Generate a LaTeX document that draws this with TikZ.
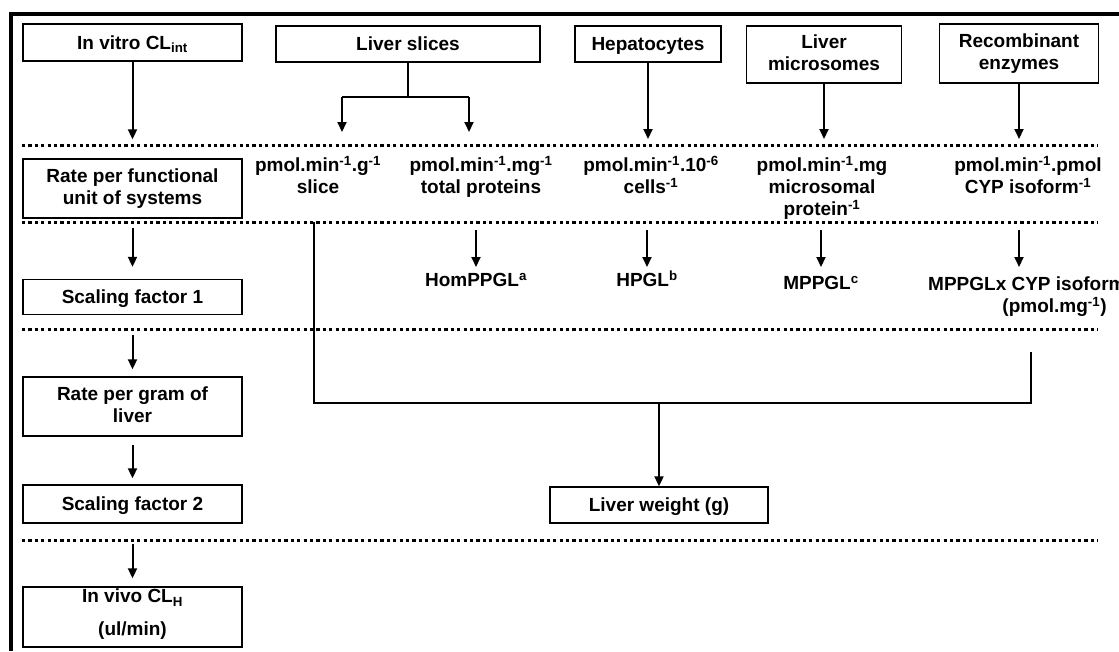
\documentclass[tikz,border=0pt]{standalone}
\usepackage{fontspec}
\setmainfont{Liberation Sans}
\usetikzlibrary{arrows.meta, positioning}

\begin{document}
\begin{tikzpicture}[
  x=1pt, y=-1pt,
  >={Triangle[length=10pt, width=9pt]},
  box/.style={
    rectangle, draw=black, line width=1.4pt,
    minimum width=219pt, minimum height=37pt, inner sep=0pt,
    align=center, font=\fontsize{19}{22}\selectfont\bfseries,
    execute at begin node={\rule[-4.5pt]{0pt}{22pt}},
    execute at end node={\rule[-4.5pt]{0pt}{22pt}}
  },
  lbl/.style={
    inner sep=0pt, align=center, font=\fontsize{19}{22}\selectfont\bfseries,
    execute at begin node={\rule[-4.5pt]{0pt}{22pt}},
    execute at end node={\rule[-4.5pt]{0pt}{22pt}}
  },
  divider/.style={line width=3pt, dash pattern=on 3.2pt off 3.2pt},
  frame/.style={line width=4pt},
  link/.style={line width=2.6pt},
  arr/.style={->, line width=2pt}
]
  \useasboundingbox (0,0) rectangle (1119,651);

  % outer frame
  \draw[frame] (10.5,651) -- (10.5,14) -- (1119,14);

  % row separators
  \draw[divider] (22,145) -- (1098,145);
  \draw[divider] (22,222) -- (1098,222);
  \draw[divider] (22,329) -- (1098,329);
  \draw[divider] (22,540) -- (1098,540);

  % left column
  \node[box] (vitro) at (132.5,42.5) {In vitro CL\textsubscript{int}};
  \node[box, minimum height=59pt] (rate) at (132.5,188.5) {Rate per functional\\unit of systems};
  \node[box, minimum height=35pt] (sf1) at (132.5,297) {Scaling factor 1};
  \node[box, minimum height=59pt] (gram) at (132.5,406.5) {Rate per gram of\\liver};
  \node[box, minimum height=38pt] (sf2) at (132.5,504) {Scaling factor 2};
  \node[box, minimum height=60pt] (vivo) at (132.5,617) {In vivo CL\textsubscript{H}\\[11pt](ul/min)\rule[-9pt]{0pt}{0pt}};

  % in vitro systems
  \node[box, minimum width=264pt, minimum height=36pt] (slices) at (408,44) {Liver slices};
  \node[box, minimum width=146pt, minimum height=36pt] (hep) at (648,44) {Hepatocytes};
  \node[box, minimum width=155pt, minimum height=57pt] (micro) at (824,54.5) {Liver\\microsomes};
  \node[box, minimum width=159pt, minimum height=59pt] (recomb) at (1019,53.5) {Recombinant\\enzymes};

  % units
  \node[lbl] (gslice) at (318,177) {pmol.min\textsuperscript{-1}.g\textsuperscript{-1}\\slice};
  \node[lbl] (mgprot) at (481,177) {pmol.min\textsuperscript{-1}.mg\textsuperscript{-1}\\total proteins};
  \node[lbl] (cells) at (651,177) {pmol.min\textsuperscript{-1}.10\textsuperscript{-6}\\cells\textsuperscript{-1}};
  \node[lbl] (microprot) at (822,188) {pmol.min\textsuperscript{-1}.mg\\microsomal\\protein\textsuperscript{-1}};
  \node[lbl] (cypiso) at (1028,177) {pmol.min\textsuperscript{-1}.pmol\\CYP isoform\textsuperscript{-1}};

  % scaling factors
  \node[lbl] (hom) at (476,280) {HomPPGL\textsuperscript{a}};
  \node[lbl] (hpgl) at (647,280) {HPGL\textsuperscript{b}};
  \node[lbl] (mppgl) at (821,283) {MPPGL\textsuperscript{c}};
  \node[lbl, anchor=west, align=right] (mcyp) at (928,297) {MPPGLx CYP isoform\\(pmol.mg\textsuperscript{-1})\rule{19pt}{0pt}};
  \node[box, minimum width=218pt, minimum height=36pt] (weight) at (659,505) {Liver weight (g)};

  \coordinate (tipA) at (0,139);
  \coordinate (tipB) at (0,132);
  \coordinate (startC) at (0,230);
  \coordinate (tipC) at (0,267);
  \coordinate (fork) at (408,97);
  \coordinate (forkL) at (342,97);
  \coordinate (forkR) at (469,97);
  \coordinate (joinL) at (314,222);
  \coordinate (joinM) at (659,403);
  \coordinate (joinR) at (1031,352);

  \draw[arr, shorten >=19pt] (vitro) -- (rate);
  \draw[arr, shorten <=9pt, shorten >=12pt] (rate) -- (sf1);
  \draw[arr, shorten <=20pt, shorten >=7pt] (sf1) -- (gram);
  \draw[arr, shorten <=8pt, shorten >=6pt] (gram) -- (sf2);
  \draw[arr, shorten <=20pt, shorten >=8pt] (sf2) -- (vivo);

  \draw[link] (slices) -- (fork);
  \draw[link] (forkL) -- (forkR);
  \draw[arr] (forkL) -- (forkL |- tipB);
  \draw[arr] (forkR) -- (forkR |- tipB);
  \draw[arr] (hep) -- (hep |- tipA);
  \draw[arr] (micro) -- (micro |- tipA);
  \draw[arr] (recomb) -- (recomb |- tipA);

  \draw[arr] (hom |- startC) -- (hom |- tipC);
  \draw[arr] (hpgl |- startC) -- (hpgl |- tipC);
  \draw[arr] (mppgl |- startC) -- (mppgl |- tipC);
  \draw[arr] (recomb |- startC) -- (recomb |- tipC);

  \draw[link] (joinL) |- (joinM) -| (joinR);
  \draw[arr] (joinM) -- (weight);
\end{tikzpicture}
\end{document}
